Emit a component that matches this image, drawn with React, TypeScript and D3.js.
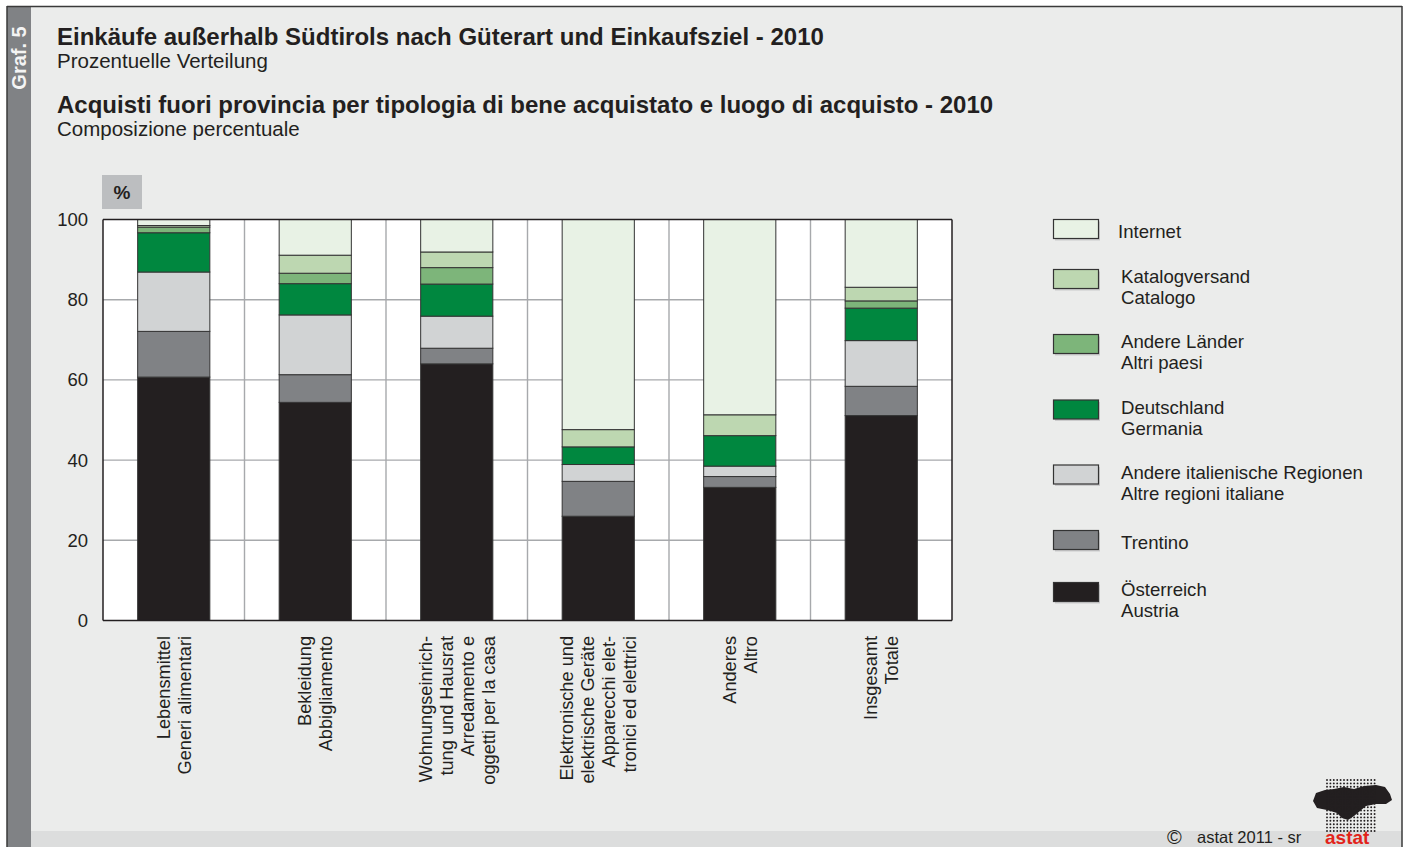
import React from "react";
import * as d3 from "d3";

const categories: string[][] = [
  ["Lebensmittel", "Generi alimentari"],
  ["Bekleidung", "Abbigliamento"],
  ["Wohnungseinrich-", "tung und Hausrat", "Arredamento e", "oggetti per la casa"],
  ["Elektronische und", "elektrische Geräte", "Apparecchi elet-", "tronici ed elettrici"],
  ["Anderes", "Altro"],
  ["Insgesamt", "Totale"],
];

const seriesKeys = ["austria", "trentino", "altreRegioni", "germania", "altriPaesi", "catalogo", "internet"];

const austria = [60.7, 54.4, 64.0, 26.0, 33.2, 51.1];
const trentino = [11.4, 6.9, 3.9, 8.7, 2.7, 7.3];
const altreRegioni = [14.8, 14.9, 8.0, 4.2, 2.6, 11.4];
const germania = [9.8, 7.8, 8.0, 4.4, 7.6, 8.1];
const altriPaesi = [1.4, 2.6, 4.1, 0.0, 0.0, 1.8];
const catalogo = [0.4, 4.5, 3.9, 4.3, 5.2, 3.4];
const internet = [1.5, 8.9, 8.1, 52.4, 48.7, 16.9];

const seriesValues: Record<string, number[]> = {
  austria, trentino, altreRegioni, germania, altriPaesi, catalogo, internet,
};

const seriesColors: Record<string, string> = {
  austria: "#231f20",
  trentino: "#808285",
  altreRegioni: "#d1d3d4",
  germania: "#00873f",
  altriPaesi: "#7db57a",
  catalogo: "#bdd7b1",
  internet: "#e8f2e5",
};

// legend, top to bottom
const legendKeys = ["internet", "catalogo", "altriPaesi", "germania", "altreRegioni", "trentino", "austria"];
const legendLabels: string[][] = [
  ["Internet"],
  ["Katalogversand", "Catalogo"],
  ["Andere Länder", "Altri paesi"],
  ["Deutschland", "Germania"],
  ["Andere italienische Regionen", "Altre regioni italiane"],
  ["Trentino"],
  ["Österreich", "Austria"],
];
const yTicks = [0, 20, 40, 60, 80, 100];

const FONT = "'Liberation Sans', Arial, Helvetica, sans-serif";
const W = 1406;
const H = 847;
const BG = "#ebeceb";

export default function App() {
  const x0 = 103, x1 = 952, yTop = 219.5, yBot = 620.5;
  const x = d3.scaleBand<number>().domain(d3.range(categories.length)).range([x0, x1]).paddingInner(0).paddingOuter(0);
  const y = d3.scaleLinear().domain([0, 100]).range([yBot, yTop]);
  const barW = x.bandwidth() * 0.51;

  const table = categories.map((_, i) => {
    const row: Record<string, number> = {};
    seriesKeys.forEach((k) => (row[k] = seriesValues[k][i]));
    return row;
  });
  const stacked = d3.stack<Record<string, number>>().keys(seriesKeys)(table);

  const legendTops = [219.5, 269.5, 334.5, 400, 465, 530.5, 582.5];

  // logo dots
  const dots: [number, number][] = [];
  for (let gx = 1327; gx <= 1378; gx += 3.4) {
    for (let gy = 780; gy <= 831; gy += 3.4) dots.push([gx, gy]);
  }

  return (
    <svg width={W} height={H} style={{ position: "absolute", left: 0, top: 0, display: "block" }} fontFamily={FONT}>
      <rect x={0} y={0} width={W} height={H} fill="#ffffff" />
      <rect x={7} y={6} width={1395} height={H - 6} fill={BG} />
      {/* footer band */}
      <rect x={31} y={831} width={1371} height={16} fill="#dcdddd" />
      {/* left sidebar */}
      <rect x={7} y={6} width={24} height={H - 6} fill="#808285" />
      <text transform="translate(26,58) rotate(-90)" textAnchor="middle" fill="#f4f4f4" fontWeight="bold" fontSize={20}>Graf. 5</text>
      {/* frame */}
      <line x1={7} y1={6.5} x2={1402} y2={6.5} stroke="#3a3a3a" strokeWidth={1.5} />
      <line x1={7} y1={6} x2={7} y2={H} stroke="#3a3a3a" strokeWidth={1.5} />
      <line x1={1402} y1={6} x2={1402} y2={H} stroke="#3a3a3a" strokeWidth={1.5} />

      {/* titles */}
      <text x={57} y={45} fontSize={24} fontWeight="bold" fill="#231f20">Einkäufe außerhalb Südtirols nach Güterart und Einkaufsziel - 2010</text>
      <text x={57} y={67.5} fontSize={20.5} fill="#231f20">Prozentuelle Verteilung</text>
      <text x={57} y={113} fontSize={24} fontWeight="bold" fill="#231f20">Acquisti fuori provincia per tipologia di bene acquistato e luogo di acquisto - 2010</text>
      <text x={57} y={135.5} fontSize={20.5} fill="#231f20">Composizione percentuale</text>

      {/* % box */}
      <rect x={102} y={175} width={40} height={34} fill="#bcbec0" />
      <text x={122} y={199} textAnchor="middle" fontSize={19} fontWeight="bold" fill="#231f20">%</text>

      {/* plot area */}
      <rect x={x0} y={yTop} width={x1 - x0} height={yBot - yTop} fill="#ffffff" />
      {yTicks.filter((t) => t > 0 && t < 100).map((t) => (
        <line key={"h" + t} x1={x0} x2={x1} y1={y(t)} y2={y(t)} stroke="#a7a9ac" strokeWidth={1.4} />
      ))}
      {d3.range(1, categories.length).map((i) => (
        <line key={"v" + i} x1={x(i)!} x2={x(i)!} y1={yTop} y2={yBot} stroke="#a7a9ac" strokeWidth={1.4} />
      ))}

      {/* bars */}
      {stacked.map((layer) => (
        <g key={layer.key}>
          {layer.map((d, i) => {
            const h = y(d[0]) - y(d[1]);
            if (h <= 0.01) return null;
            return (
              <rect
                key={i}
                x={x(i)! + (x.bandwidth() - barW) / 2}
                y={y(d[1])}
                width={barW}
                height={h}
                fill={seriesColors[layer.key]}
                stroke="#333333"
                strokeWidth={1}
              />
            );
          })}
        </g>
      ))}

      {/* plot border */}
      <line x1={x0} x2={x1} y1={yTop} y2={yTop} stroke="#231f20" strokeWidth={1.5} />
      <line x1={x0} x2={x1} y1={yBot} y2={yBot} stroke="#231f20" strokeWidth={1.5} />
      <line x1={x0} x2={x0} y1={yTop} y2={yBot} stroke="#231f20" strokeWidth={1.5} />
      <line x1={x1} x2={x1} y1={yTop} y2={yBot} stroke="#231f20" strokeWidth={1.5} />

      {/* y tick labels */}
      {yTicks.map((t) => (
        <text key={"yt" + t} x={88} y={y(t)} dy="0.35em" textAnchor="end" fontSize={18.5} fill="#231f20">{t}</text>
      ))}

      {/* x labels */}
      {categories.map((lines, i) => {
        const cx = x(i)! + x.bandwidth() / 2;
        const n = lines.length;
        return (
          <text key={"xl" + i} transform={`translate(${cx},636) rotate(-90)`} textAnchor="end" fontSize={18.2} fill="#231f20">
            {lines.map((ln, j) => (
              <tspan key={j} x={0} y={(j - (n - 1) / 2) * 21 + 6.5}>{ln}</tspan>
            ))}
          </text>
        );
      })}

      {/* legend */}
      {legendKeys.map((k, i) => {
        const top = legendTops[i];
        const lines = legendLabels[i];
        const tx = i === 0 ? 1118 : 1121;
        return (
          <g key={"lg" + k}>
            <rect x={1055} y={top + 2} width={45} height={19} fill="#b5b6b8" opacity={0.6} />
            <rect x={1053.5} y={top} width={45} height={19} fill={seriesColors[k]} stroke="#333333" strokeWidth={1.2} />
            {lines.length === 1 ? (
              <text x={tx} y={top + 18} fontSize={18.6} fill="#231f20">{lines[0]}</text>
            ) : (
              <text fontSize={18.6} fill="#231f20">
                <tspan x={tx} y={top + 13.5}>{lines[0]}</tspan>
                <tspan x={tx} y={top + 34.5}>{lines[1]}</tspan>
              </text>
            )}
          </g>
        );
      })}

      {/* footer */}
      <text x={1167} y={844} fontSize={20} fill="#231f20">©</text>
      <text x={1197} y={843} fontSize={16.5} fill="#231f20">astat 2011 - sr</text>
      <path
        d="M1313,801 L1316,793 L1325,790 L1334,789 L1344,787 L1354,789 L1364,786 L1376,785 L1385,787 L1390,794 L1392,800 L1386,804 L1376,804 L1366,806 L1360,811 L1354,816 L1348,820 L1342,818 L1337,813 L1327,810 L1317,808 Z"
        fill="#231f20"
      />
      {dots.map(([dx, dy], i) => (
        <circle key={"d" + i} cx={dx} cy={dy} r={0.95} fill="#231f20" />
      ))}
      <text x={1325} y={844} fontSize={19} fontWeight="bold" fill="#e2231a">astat</text>
    </svg>
  );
}
